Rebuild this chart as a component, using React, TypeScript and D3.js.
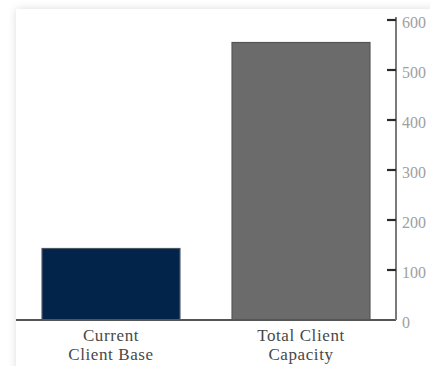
import React from "react";
import * as d3 from "d3";

// Client base vs. total capacity
const categories: string[][] = [
  ["Current", "Client Base"],
  ["Total Client", "Capacity"],
];
const values: number[] = [143, 555];
const barColors: string[] = ["#03244a", "#6b6b6b"];
const barStrokes: string[] = ["#4a5566", "#555555"];
const yTicks: number[] = [0, 100, 200, 300, 400, 500, 600];

const W = 430;
const H = 366;
const card = { x: 16, y: 9 };
const plot = { left: 16, right: 396, top: 20, bottom: 320 };

export default function App() {
  const keys = categories.map((c) => c.join(" "));
  const x = d3
    .scaleBand<string>()
    .domain(keys)
    .range([plot.left, plot.right])
    .paddingInner(0.274)
    .paddingOuter(0.137);
  const y = d3.scaleLinear().domain([0, 600]).range([plot.bottom, plot.top]);

  const serif = "'Liberation Serif', 'Times New Roman', serif";

  return (
    <svg
      width={W}
      height={H}
      style={{ position: "absolute", left: 0, top: 0, background: "#ffffff" }}
    >
      <defs>
        <filter id="cardShadow" x="-10%" y="-10%" width="130%" height="130%">
          <feGaussianBlur in="SourceAlpha" stdDeviation="4" />
          <feComponentTransfer>
            <feFuncA type="linear" slope="0.14" />
          </feComponentTransfer>
          <feMerge>
            <feMergeNode />
            <feMergeNode in="SourceGraphic" />
          </feMerge>
        </filter>
      </defs>

      {/* card */}
      <rect
        x={card.x}
        y={card.y}
        width={W + 40}
        height={H + 40}
        fill="#ffffff"
        filter="url(#cardShadow)"
      />

      {/* bars */}
      {keys.map((k, i) => (
        <rect
          key={k}
          x={x(k)}
          y={y(values[i])}
          width={x.bandwidth()}
          height={y(0) - y(values[i])}
          fill={barColors[i]}
          stroke={barStrokes[i]}
          strokeWidth={1.2}
        />
      ))}

      {/* baseline */}
      <line
        x1={plot.left}
        x2={plot.right}
        y1={y(0)}
        y2={y(0)}
        stroke="#555555"
        strokeWidth={2}
      />

      {/* right value axis */}
      <line
        x1={plot.right}
        x2={plot.right}
        y1={y(600) - 3}
        y2={y(0)}
        stroke="#7a7a7a"
        strokeWidth={2}
      />
      {yTicks.map((t) => (
        <g key={t}>
          {t > 0 && (
            <line
              x1={plot.right - 9}
              x2={plot.right}
              y1={y(t)}
              y2={y(t)}
              stroke="#2a2a2a"
              strokeWidth={2.2}
            />
          )}
          <text
            x={plot.right + 6}
            y={y(t) + 8}
            fontFamily={serif}
            fontSize={16}
            fill="#a0a0a0"
          >
            {t}
          </text>
        </g>
      ))}

      {/* category labels */}
      {categories.map((lines, i) => (
        <text
          key={keys[i]}
          textAnchor="middle"
          fontFamily={serif}
          fontSize={17}
          letterSpacing={0.6}
          fill="#484848"
        >
          {lines.map((l, j) => (
            <tspan
              key={j}
              x={(x(keys[i]) as number) + x.bandwidth() / 2}
              y={341 + j * 19}
            >
              {l}
            </tspan>
          ))}
        </text>
      ))}
    </svg>
  );
}
